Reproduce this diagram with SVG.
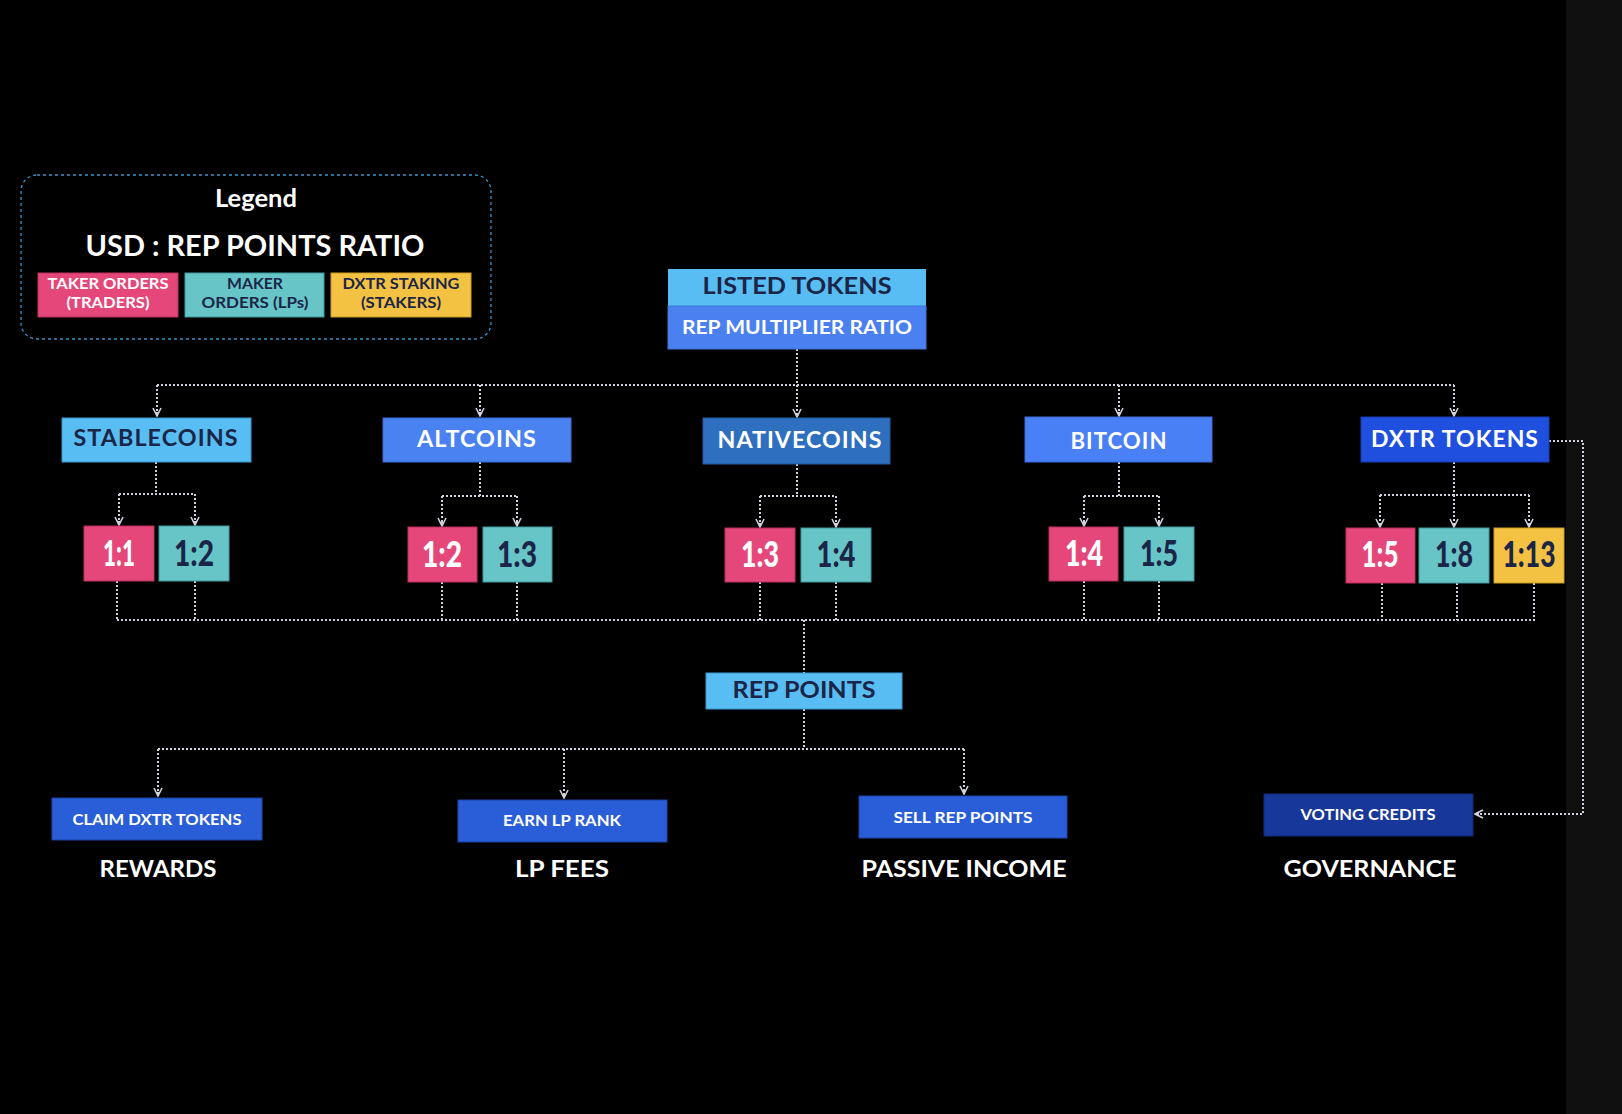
<svg xmlns="http://www.w3.org/2000/svg" width="1622" height="1114" viewBox="0 0 1622 1114">
<defs>
<style>
text{font-family:Lato,"Noto Sans","DejaVu Sans",sans-serif;font-weight:700;text-anchor:middle}
.w{fill:#ffffff}
.n{fill:#1b2547}
.c{fill:none;stroke:#cfd2de;stroke-width:2;stroke-dasharray:2 2}
.pk{fill:#e5477a;stroke:#b8305e;stroke-width:1}
.tl{fill:#67c5c8;stroke:#3f9a9e;stroke-width:1}
.yl{fill:#f4c243;stroke:#c99a25;stroke-width:1}
.lb{fill:#58bdf3;stroke:#3a98d0;stroke-width:1}
.rt{font-size:36px;font-weight:900}
.cat{font-size:22px;letter-spacing:1px}
.act{fill:#2a5ed9;stroke:#1d45a8;stroke-width:1}
.at{font-size:16px}
.bl{font-size:23px}
</style>
<marker id="arr" viewBox="0 0 10 10" refX="9" refY="5" markerWidth="10" markerHeight="10" markerUnits="userSpaceOnUse" orient="auto">
<path d="M1,1 L9,5 L1,9" fill="none" stroke="#cfd2de" stroke-width="1.6"/>
<path d="M5,3 L9,5 L5,7 z" fill="#cfd2de"/>
</marker>
</defs>
<rect x="0" y="0" width="1622" height="1114" fill="#000"/>
<rect x="1566" y="0" width="56" height="1114" fill="#0f0f0f"/>

<g id="legend">
<rect x="21" y="175" width="470" height="164" rx="16" fill="none" stroke="#3a92c8" stroke-width="1.3" stroke-dasharray="3 3"/>
<text class="w" x="256" y="207" font-size="24" textLength="82" lengthAdjust="spacingAndGlyphs">Legend</text>
<text class="w" x="255" y="256" font-size="28" textLength="339" lengthAdjust="spacingAndGlyphs">USD : REP POINTS RATIO</text>
<rect class="pk" x="38" y="273" width="140" height="44"/>
<text class="w" x="108" y="289" font-size="15" textLength="121" lengthAdjust="spacingAndGlyphs">TAKER ORDERS</text>
<text class="w" x="108" y="308" font-size="15" textLength="83" lengthAdjust="spacingAndGlyphs">(TRADERS)</text>
<rect class="tl" x="185" y="273" width="139" height="44"/>
<text class="n" x="255" y="289" font-size="15" textLength="56" lengthAdjust="spacingAndGlyphs">MAKER</text>
<text class="n" x="255" y="308" font-size="15" textLength="107" lengthAdjust="spacingAndGlyphs">ORDERS (LPs)</text>
<rect class="yl" x="331" y="273" width="140" height="44"/>
<text class="n" x="401" y="289" font-size="15" textLength="117" lengthAdjust="spacingAndGlyphs">DXTR STAKING</text>
<text class="n" x="401" y="308" font-size="15" textLength="80" lengthAdjust="spacingAndGlyphs">(STAKERS)</text>
</g>

<g id="connectors">
<path class="c" d="M797,349 V385"/>
<path class="c" d="M157,385 H1454"/>
<path class="c" d="M797,385 V417" marker-end="url(#arr)"/>
<path class="c" d="M157,385 V416" marker-end="url(#arr)"/>
<path class="c" d="M480,385 V416" marker-end="url(#arr)"/>
<path class="c" d="M1119,385 V416" marker-end="url(#arr)"/>
<path class="c" d="M1454,385 V416" marker-end="url(#arr)"/>

<path class="c" d="M156,462 V494 M119,494 H195"/>
<path class="c" d="M119,494 V525" marker-end="url(#arr)"/>
<path class="c" d="M195,494 V525" marker-end="url(#arr)"/>
<path class="c" d="M480,462 V496 M442,496 H517"/>
<path class="c" d="M442,496 V526" marker-end="url(#arr)"/>
<path class="c" d="M517,496 V526" marker-end="url(#arr)"/>
<path class="c" d="M797,464 V496 M760,496 H836"/>
<path class="c" d="M760,496 V527" marker-end="url(#arr)"/>
<path class="c" d="M836,496 V527" marker-end="url(#arr)"/>
<path class="c" d="M1119,462 V496 M1084,496 H1159"/>
<path class="c" d="M1084,496 V526" marker-end="url(#arr)"/>
<path class="c" d="M1159,496 V526" marker-end="url(#arr)"/>
<path class="c" d="M1454,462 V495 M1380,495 H1529"/>
<path class="c" d="M1380,495 V527" marker-end="url(#arr)"/>
<path class="c" d="M1454,495 V527" marker-end="url(#arr)"/>
<path class="c" d="M1529,495 V527" marker-end="url(#arr)"/>

<path class="c" d="M117,581 V620 M195,581 V620 M442,582 V620 M517,582 V620 M760,582 V620 M836,582 V620 M1084,581 V620 M1159,581 V620 M1382,583 V620 M1457,583 V620 M1534,583 V620"/>
<path class="c" d="M117,620 H1535"/>
<path class="c" d="M804,620 V673"/>
<path class="c" d="M804,709 V749 M158,749 H965"/>
<path class="c" d="M158,749 V796" marker-end="url(#arr)"/>
<path class="c" d="M564,749 V798" marker-end="url(#arr)"/>
<path class="c" d="M964,749 V794" marker-end="url(#arr)"/>
<path class="c" d="M1549,441 H1583 V814 H1475" marker-end="url(#arr)"/>
</g>

<g id="listed-tokens">
<rect x="668" y="269" width="258" height="37" fill="#58bdf3"/>
<rect x="668" y="306" width="258" height="43" fill="#4a80ef" stroke="#3f74d8" stroke-width="1"/>
<text class="n" x="797" y="294" font-size="23" textLength="189" lengthAdjust="spacingAndGlyphs">LISTED TOKENS</text>
<text class="w" x="797" y="334" font-size="19" textLength="230" lengthAdjust="spacingAndGlyphs">REP MULTIPLIER RATIO</text>
</g>

<g id="stablecoins">
<rect class="lb" x="62" y="418" width="189" height="44"/>
<text class="n cat" x="156" y="446" textLength="165" lengthAdjust="spacingAndGlyphs">STABLECOINS</text>
</g>
<g id="altcoins">
<rect x="383" y="418" width="188" height="44" fill="#4a82f2" stroke="#3a6ad0" stroke-width="1"/>
<text class="w cat" x="477" y="447" textLength="120" lengthAdjust="spacingAndGlyphs">ALTCOINS</text>
</g>
<g id="nativecoins">
<rect x="703" y="418" width="187" height="46" fill="#2f6fbf" stroke="#265ca0" stroke-width="1"/>
<text class="w cat" x="800" y="448" textLength="165" lengthAdjust="spacingAndGlyphs">NATIVECOINS</text>
</g>
<g id="bitcoin">
<rect x="1025" y="417" width="187" height="45" fill="#4a80f5" stroke="#3a6ad6" stroke-width="1"/>
<text class="w cat" x="1119" y="449" textLength="97" lengthAdjust="spacingAndGlyphs">BITCOIN</text>
</g>
<g id="dxtr-tokens">
<rect x="1361" y="417" width="188" height="45" fill="#1f4fdf" stroke="#1a3fae" stroke-width="1"/>
<text class="w cat" x="1455" y="447" textLength="168" lengthAdjust="spacingAndGlyphs">DXTR TOKENS</text>
</g>

<g id="stable-taker"><rect class="pk" x="84" y="526" width="70" height="55"/><text class="w rt" x="119" y="566" textLength="32" lengthAdjust="spacingAndGlyphs">1:1</text></g>
<g id="stable-maker"><rect class="tl" x="159" y="526" width="70" height="55"/><text class="n rt" x="194" y="566" textLength="40" lengthAdjust="spacingAndGlyphs">1:2</text></g>
<g id="alt-taker"><rect class="pk" x="408" y="527" width="69" height="55"/><text class="w rt" x="442" y="567" textLength="40" lengthAdjust="spacingAndGlyphs">1:2</text></g>
<g id="alt-maker"><rect class="tl" x="483" y="527" width="69" height="55"/><text class="n rt" x="517" y="567" textLength="40" lengthAdjust="spacingAndGlyphs">1:3</text></g>
<g id="native-taker"><rect class="pk" x="725" y="528" width="70" height="54"/><text class="w rt" x="760" y="567" textLength="38" lengthAdjust="spacingAndGlyphs">1:3</text></g>
<g id="native-maker"><rect class="tl" x="801" y="528" width="70" height="54"/><text class="n rt" x="836" y="567" textLength="39" lengthAdjust="spacingAndGlyphs">1:4</text></g>
<g id="btc-taker"><rect class="pk" x="1049" y="527" width="69" height="54"/><text class="w rt" x="1084" y="566" textLength="38" lengthAdjust="spacingAndGlyphs">1:4</text></g>
<g id="btc-maker"><rect class="tl" x="1124" y="527" width="70" height="54"/><text class="n rt" x="1159" y="566" textLength="38" lengthAdjust="spacingAndGlyphs">1:5</text></g>
<g id="dxtr-taker"><rect class="pk" x="1346" y="528" width="69" height="55"/><text class="w rt" x="1380" y="567" textLength="37" lengthAdjust="spacingAndGlyphs">1:5</text></g>
<g id="dxtr-maker"><rect class="tl" x="1419" y="528" width="70" height="55"/><text class="n rt" x="1454" y="567" textLength="38" lengthAdjust="spacingAndGlyphs">1:8</text></g>
<g id="dxtr-staking"><rect class="yl" x="1494" y="528" width="70" height="55"/><text class="n rt" x="1529" y="567" textLength="53" lengthAdjust="spacingAndGlyphs">1:13</text></g>

<g id="rep-points">
<rect class="lb" x="706" y="673" width="196" height="36"/>
<text class="n" x="804" y="698" font-size="23" textLength="143" lengthAdjust="spacingAndGlyphs">REP POINTS</text>
</g>

<g id="claim">
<rect class="act" x="52" y="798" width="210" height="42"/>
<text class="w at" x="157" y="825" textLength="169" lengthAdjust="spacingAndGlyphs">CLAIM DXTR TOKENS</text>
<text class="w bl" x="158" y="877" textLength="117" lengthAdjust="spacingAndGlyphs">REWARDS</text>
</g>
<g id="earn">
<rect class="act" x="458" y="800" width="209" height="42"/>
<text class="w at" x="562" y="826" textLength="118" lengthAdjust="spacingAndGlyphs">EARN LP RANK</text>
<text class="w bl" x="562" y="877" textLength="94" lengthAdjust="spacingAndGlyphs">LP FEES</text>
</g>
<g id="sell">
<rect class="act" x="859" y="796" width="208" height="42"/>
<text class="w at" x="963" y="823" textLength="139" lengthAdjust="spacingAndGlyphs">SELL REP POINTS</text>
<text class="w bl" x="964" y="877" textLength="205" lengthAdjust="spacingAndGlyphs">PASSIVE INCOME</text>
</g>
<g id="voting">
<rect x="1264" y="794" width="209" height="42" fill="#17379a" stroke="#112a78" stroke-width="1"/>
<text class="w at" x="1368" y="820" textLength="135" lengthAdjust="spacingAndGlyphs">VOTING CREDITS</text>
<text class="w bl" x="1370" y="877" textLength="173" lengthAdjust="spacingAndGlyphs">GOVERNANCE</text>
</g>
</svg>
